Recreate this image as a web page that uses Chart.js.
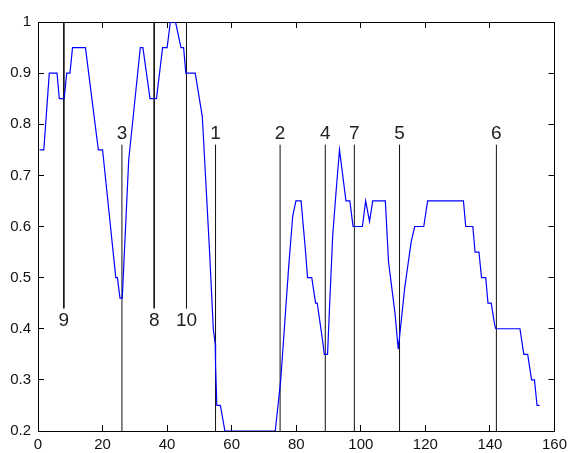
<!DOCTYPE html>
<html lang="en">
<head>
    <meta charset="UTF-8">
    <title>Curve with marked positions</title>
    <style>
        body { margin: 0; background: #fff; }
    </style>
</head>
<body>
    <canvas id="grafica" width="578" height="453"></canvas>

    <script src="https://cdn.jsdelivr.net/npm/chart.js@4.4.1/dist/chart.umd.min.js"></script>
    <script>
        // values (x, y at each corner)
        const curveX = [0.5, 1.8, 3.5, 5.9, 6.6, 8.1, 8.9, 9.9, 10.7, 14.7, 18.7, 20.0, 24.1, 24.6, 25.4, 26.1,
            28.1, 31.7, 32.5, 34.7, 36.7, 38.6, 40.0, 41.0, 42.6, 44.3, 45.1, 45.8, 48.7, 50.9, 53.1, 54.3,
            54.9, 55.0, 55.4, 56.5, 57.9, 73.5, 75.2, 77.7, 78.9, 79.9, 81.5, 82.8, 83.5, 84.8, 86.0, 86.5,
            88.2, 88.7, 89.7, 90.3, 91.3, 92.4, 93.4, 94.4, 95.4, 96.6, 97.4, 97.6, 100.5, 101.5, 102.7, 103.7,
            107.6, 108.6, 110.6, 111.6, 113.6, 115.6, 116.7, 119.5, 120.7, 131.8, 132.5, 134.7, 135.4, 136.6,
            137.4, 138.7, 139.4, 140.4, 141.4, 141.8, 149.3, 150.5, 151.7, 152.9, 153.8, 154.6, 155.4];
        const curveY = [0.75, 0.75, 0.90, 0.90, 0.85, 0.85, 0.90, 0.90, 0.95, 0.95, 0.75, 0.75, 0.50, 0.50, 0.46, 0.46,
            0.73, 0.95, 0.95, 0.85, 0.85, 0.95, 0.95, 1.00, 1.00, 0.95, 0.95, 0.90, 0.90, 0.815, 0.557, 0.40,
            0.37, 0.33, 0.25, 0.25, 0.20, 0.20, 0.30, 0.525, 0.62, 0.65, 0.65, 0.557, 0.50, 0.50, 0.45, 0.45,
            0.375, 0.35, 0.35, 0.44, 0.583, 0.673, 0.75, 0.70, 0.65, 0.65, 0.61, 0.60, 0.60, 0.65, 0.61, 0.65,
            0.65, 0.53, 0.43, 0.36, 0.48, 0.57, 0.60, 0.60, 0.65, 0.65, 0.60, 0.60, 0.55, 0.55,
            0.50, 0.50, 0.45, 0.45, 0.41, 0.40, 0.40, 0.35, 0.35, 0.30, 0.30, 0.25, 0.25];

        // marked positions: name, x, where the line starts and ends
        const markerNames = ['9', '3', '8', '10', '1', '2', '4', '7', '5', '6'];
        const markerX = [8, 26, 36, 46, 55, 75, 89, 98, 112, 142];
        const markerFrom = [1, 0.2, 1, 1, 0.2, 0.2, 0.2, 0.2, 0.2, 0.2];
        const markerTo = [0.44, 0.76, 0.44, 0.44, 0.76, 0.76, 0.76, 0.76, 0.76, 0.76];

        // axis ticks
        const xTicks = [0, 20, 40, 60, 80, 100, 120, 140, 160];
        const yTicks = [0.2, 0.3, 0.4, 0.5, 0.6, 0.7, 0.8, 0.9, 1];

        const fuente = '"Liberation Sans", Arial, sans-serif';

        //Armar los datasets
        const datasets = [{
            data: curveX.map((x, i) => ({ x: x, y: curveY[i] })),
            borderColor: 'rgb(0,0,255)',
            borderWidth: 1.2,
            pointRadius: 0,
            tension: 0
        }];
        markerX.forEach((x, i) => {
            datasets.push({
                data: [{ x: x, y: markerFrom[i] }, { x: x, y: markerTo[i] }],
                borderColor: '#111',
                borderWidth: 1,
                pointRadius: 0
            });
        });

        //Nombres de las marcas
        const nombresPlugin = {
            id: 'nombres',
            afterDraw(chart) {
                const c = chart.ctx;
                const sx = chart.scales.x, sy = chart.scales.y;
                c.save();
                c.fillStyle = '#222';
                c.font = '19px ' + fuente;
                c.textAlign = 'center';
                markerX.forEach((x, i) => {
                    const px = sx.getPixelForValue(x);
                    const py = sy.getPixelForValue(markerTo[i]);
                    if (markerFrom[i] > markerTo[i]) {
                        c.textBaseline = 'top';
                        c.fillText(markerNames[i], px, py + 3);
                    } else {
                        c.textBaseline = 'bottom';
                        c.fillText(markerNames[i], px, py - 1);
                    }
                });
                c.restore();
            }
        };

        //Marcas hacia adentro (tickLength negativo) y borde en los cuatro lados
        const marcas = { display: true, drawOnChartArea: false, drawTicks: true, tickLength: -6, color: '#000', lineWidth: 1 };
        const borde = { display: true, color: '#000', width: 1 };
        const letra = { family: fuente, size: 15 };

        const ctx = document.getElementById('grafica').getContext('2d');
        const grafica = new Chart(ctx, {
            type: 'line',
            data: { datasets: datasets },
            options: {
                responsive: false,
                animation: false,
                devicePixelRatio: 1,
                layout: { padding: { left: 0, right: 12, top: 19, bottom: 0 } },
                plugins: { legend: { display: false }, tooltip: { enabled: false } },
                scales: {
                    x: {
                        type: 'linear',
                        position: 'bottom',
                        min: 0,
                        max: 160,
                        afterBuildTicks: s => { s.ticks = xTicks.map(v => ({ value: v })); },
                        afterFit: s => { s.height = 20; },
                        grid: marcas,
                        border: borde,
                        ticks: {
                            color: '#111',
                            padding: 11,
                            maxRotation: 0,
                            font: letra,
                            callback: v => String(v)
                        }
                    },
                    x2: {
                        type: 'linear',
                        position: 'top',
                        min: 0,
                        max: 160,
                        afterBuildTicks: s => { s.ticks = xTicks.map(v => ({ value: v })); },
                        afterFit: s => { s.height = 0; },
                        grid: marcas,
                        border: borde,
                        ticks: { display: false }
                    },
                    y: {
                        type: 'linear',
                        position: 'left',
                        min: 0.2,
                        max: 1,
                        afterBuildTicks: s => { s.ticks = yTicks.map(v => ({ value: v })); },
                        afterFit: s => { s.width = 38; },
                        grid: marcas,
                        border: borde,
                        ticks: {
                            color: '#111',
                            padding: 13,
                            font: letra,
                            callback: v => String(Math.round(v * 10) / 10)
                        }
                    },
                    y2: {
                        type: 'linear',
                        position: 'right',
                        min: 0.2,
                        max: 1,
                        afterBuildTicks: s => { s.ticks = yTicks.map(v => ({ value: v })); },
                        afterFit: s => { s.width = 0; },
                        grid: marcas,
                        border: borde,
                        ticks: { display: false }
                    }
                }
            },
            plugins: [nombresPlugin]
        });
    </script>
</body>
</html>
